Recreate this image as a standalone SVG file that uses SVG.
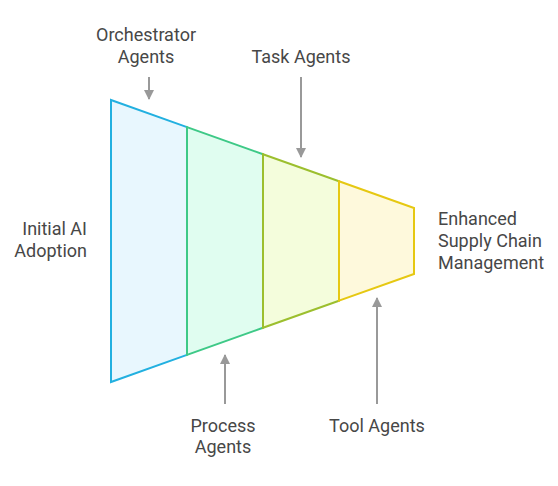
<svg xmlns="http://www.w3.org/2000/svg" width="558" height="486" viewBox="0 0 558 486">
<style>
text{font-family:Roboto,"Liberation Sans",sans-serif;font-size:18px;fill:#474747}
.seg{stroke-width:2;stroke-linejoin:miter}
.arr{stroke:#999;stroke-width:2;fill:none}
</style>
<defs>
<marker id="ah" viewBox="0 0 10 10" refX="9" refY="5" markerWidth="5" markerHeight="5" orient="auto" markerUnits="strokeWidth">
<path d="M0,0 L10,5 L0,10 Z" fill="#999"/>
</marker>
</defs>
<rect width="558" height="486" fill="#fff"/>
<g id="seg1"><polygon class="seg" points="111,100 187,127.1 187,354.9 111,382" fill="#e8f7fe" stroke="#22b0e0"/></g>
<g id="seg2"><polygon class="seg" points="187,127.1 263,154.2 263,327.8 187,354.9" fill="#e0fdf0" stroke="#3ec987"/></g>
<g id="seg3"><polygon class="seg" points="263,154.2 339,181.3 339,300.7 263,327.8" fill="#f4fddc" stroke="#9cbf2e"/></g>
<g id="seg4"><polygon class="seg" points="339,181.3 414,208 414,274 339,300.7" fill="#fef9dc" stroke="#e6c812"/></g>
<g id="connectors">
<line class="arr" x1="149" y1="77" x2="149" y2="99" marker-end="url(#ah)"/>
<line class="arr" x1="301" y1="77" x2="301" y2="157" marker-end="url(#ah)"/>
<line class="arr" x1="225" y1="404" x2="225" y2="355" marker-end="url(#ah)"/>
<line class="arr" x1="377" y1="404" x2="377" y2="298" marker-end="url(#ah)"/>
</g>
<g id="label-orchestrator"><text x="146" y="41" text-anchor="middle">Orchestrator</text><text x="146" y="63" text-anchor="middle">Agents</text></g>
<g id="label-task"><text x="301" y="63" text-anchor="middle">Task Agents</text></g>
<g id="label-initial"><text x="87" y="235" text-anchor="end">Initial AI</text><text x="87" y="257" text-anchor="end">Adoption</text></g>
<g id="label-enhanced"><text x="438" y="225">Enhanced</text><text x="438" y="247">Supply Chain</text><text x="438" y="269">Management</text></g>
<g id="label-process"><text x="223" y="432" text-anchor="middle">Process</text><text x="223" y="453" text-anchor="middle">Agents</text></g>
<g id="label-tool"><text x="377" y="432" text-anchor="middle">Tool Agents</text></g>
</svg>
